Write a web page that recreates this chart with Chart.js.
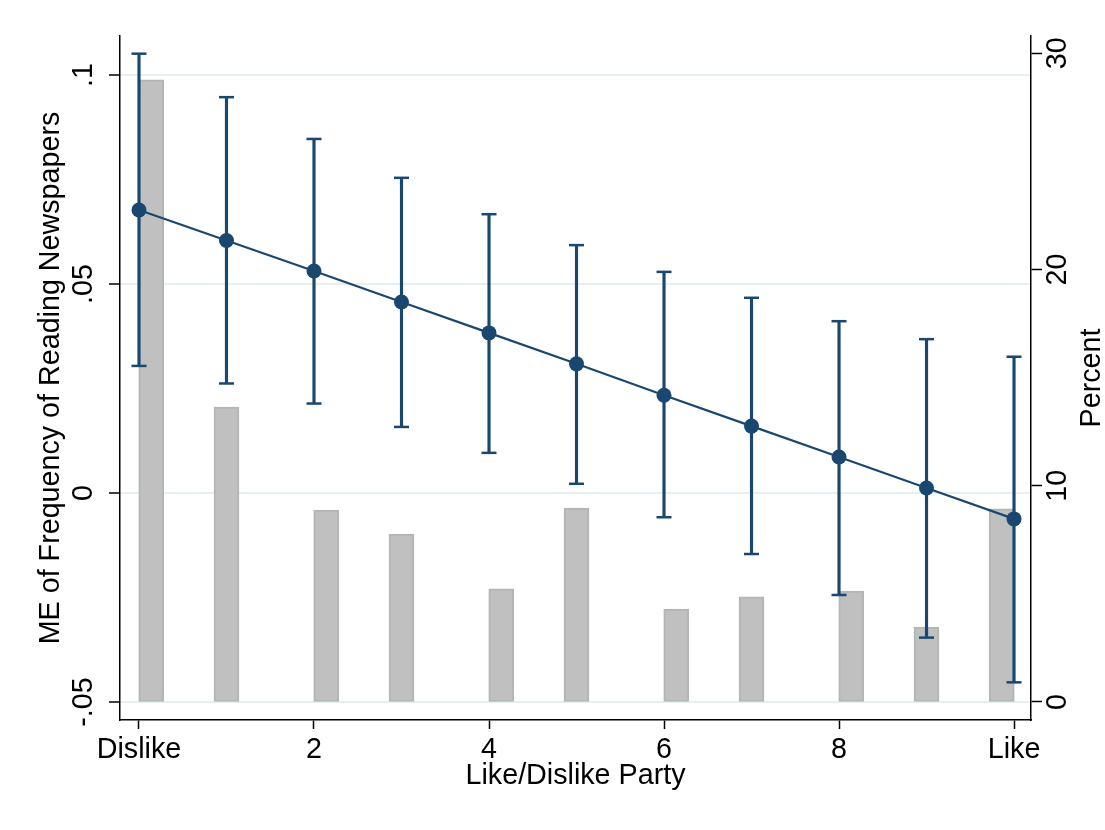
<!DOCTYPE html>
<html>
<head>
<meta charset="utf-8">
<script src="https://cdn.jsdelivr.net/npm/chart.js@4/dist/chart.umd.min.js"></script>
<style>
  html, body { margin: 0; padding: 0; background: #ffffff; }
  #wrap { width: 1105px; height: 830px; position: relative; }
</style>
</head>
<body>
<div id="wrap"><canvas id="c" width="1105" height="830"></canvas></div>
<script>
// ---- data ----
const xValues = [0, 1, 2, 3, 4, 5, 6, 7, 8, 9, 10];
const meValues = [0.0677, 0.0604, 0.0531, 0.0457, 0.0383, 0.0309, 0.0234, 0.0160, 0.0086, 0.0012, -0.0062];
const ciUpper = [0.1051, 0.0947, 0.0847, 0.0754, 0.0667, 0.0593, 0.0529, 0.0467, 0.0411, 0.0368, 0.0326];
const ciLower = [0.0304, 0.0262, 0.0214, 0.0158, 0.0096, 0.0022, -0.0058, -0.0146, -0.0244, -0.0346, -0.0453];
const histBinMid = [0.14, 1.0, 2.14, 3.0, 4.14, 5.0, 6.14, 7.0, 8.14, 9.0, 9.86];
const histPercent = [28.77, 13.64, 8.88, 7.77, 5.23, 8.97, 4.30, 4.86, 5.13, 3.47, 8.93];
const xTickValues = [0, 2, 4, 6, 8, 10];
const xTickLabels = ['Dislike', '2', '4', '6', '8', 'Like'];
const yTickValues = [-0.05, 0, 0.05, 0.1];
const yTickLabels = ['-.05', '0', '.05', '.1'];
const y2TickValues = [0, 10, 20, 30];
const y2TickLabels = ['0', '10', '20', '30'];
const xTitle = 'Like/Dislike Party';
const yTitle = 'ME of Frequency of Reading Newspapers';
const y2Title = 'Percent';

// ---- style ----
const NAVY = '#1a476f';
const FONT = '"Liberation Sans", Arial, Helvetica, sans-serif';
const FS = 28.7;

function fixedTicks(values) {
  return function (scale) { scale.ticks = values.map(v => ({ value: v })); };
}
function labelFrom(values, labels) {
  return function (value) {
    const i = values.findIndex(v => Math.abs(v - value) < 1e-9);
    return i >= 0 ? labels[i] : '';
  };
}

const rightTitlePlugin = {
  id: 'rightTitle',
  afterDraw(chart) {
    const ctx = chart.ctx;
    const a = chart.chartArea;
    ctx.save();
    ctx.translate(1092, (a.top + a.bottom) / 2);
    ctx.rotate(-Math.PI / 2);
    ctx.font = FS + 'px ' + FONT;
    ctx.fillStyle = '#000';
    ctx.textAlign = 'center';
    ctx.textBaseline = 'middle';
    ctx.fillText(y2Title, 0, 0);
    ctx.restore();
  }
};

new Chart(document.getElementById('c'), {
  data: {
    datasets: [
      {
        type: 'line',
        data: xValues.map((x, i) => ({ x: x, y: meValues[i] })),
        xAxisID: 'x', yAxisID: 'y',
        borderColor: NAVY, borderWidth: 2.2,
        pointRadius: 7.5, pointBackgroundColor: NAVY, pointBorderColor: NAVY, pointBorderWidth: 0,
        tension: 0, order: 0
      },
      {
        type: 'line',
        data: xValues.map((x, i) => ({ x: x, y: ciUpper[i] })).concat(xValues.map((x, i) => ({ x: x, y: ciLower[i] }))),
        xAxisID: 'x', yAxisID: 'y',
        showLine: false,
        pointStyle: 'line', pointRadius: 7.5,
        pointBorderColor: NAVY, pointBorderWidth: 2.5,
        order: 1
      },
      {
        type: 'bar',
        data: xValues.map((x, i) => ({ x: x, y: [ciLower[i], ciUpper[i]] })),
        xAxisID: 'x', yAxisID: 'y',
        backgroundColor: NAVY, borderWidth: 0,
        barThickness: 2.5, grouped: false,
        order: 2
      },
      {
        type: 'bar',
        data: histBinMid.map((x, i) => ({ x: x, y: histPercent[i] })),
        xAxisID: 'x', yAxisID: 'y2',
        backgroundColor: '#c0c0c0', borderColor: '#b1b6b5', borderWidth: 2,
        borderSkipped: false,
        barThickness: 25, grouped: false,
        order: 3
      }
    ]
  },
  options: {
    responsive: false,
    animation: false,
    events: [],
    layout: { padding: { top: 36, left: 0, right: 0, bottom: 0 } },
    plugins: { legend: { display: false }, tooltip: { enabled: false }, title: { display: false } },
    scales: {
      x: {
        type: 'linear', position: 'bottom',
        min: -0.217, max: 10.194,
        offset: false,
        afterBuildTicks: fixedTicks(xTickValues),
        afterFit(s) { s.height = 110; },
        ticks: {
          callback: labelFrom(xTickValues, xTickLabels),
          color: '#000', font: { family: FONT, size: FS },
          padding: 4, maxRotation: 0, minRotation: 0, autoSkip: false
        },
        grid: { display: true, offset: false, drawOnChartArea: false, drawTicks: true, tickLength: 9, tickColor: '#000', tickWidth: 1.5 },
        border: { display: true, color: '#000', width: 1.5 },
        title: { display: true, text: xTitle, color: '#000', font: { family: FONT, size: FS }, padding: { top: 0, bottom: 37 } }
      },
      y: {
        type: 'linear', position: 'left',
        min: -0.05431, max: 0.10933,
        afterBuildTicks: fixedTicks(yTickValues),
        afterFit(s) { s.width = 120; },
        ticks: {
          callback: labelFrom(yTickValues, yTickLabels),
          color: '#000', font: { family: FONT, size: FS },
          minRotation: 90, maxRotation: 90, crossAlign: 'center', padding: 0, autoSkip: false
        },
        grid: { display: true, drawOnChartArea: true, color: '#e8eff1', lineWidth: 2, drawTicks: true, tickLength: 11, tickColor: '#000', tickWidth: 1.5 },
        border: { display: true, color: '#000', width: 1.5 },
        title: { display: true, text: yTitle, color: '#000', font: { family: FONT, size: FS }, padding: { top: 34, bottom: 0 } }
      },
      y2: {
        type: 'linear', position: 'right',
        min: -0.833, max: 30.80,
        afterBuildTicks: fixedTicks(y2TickValues),
        afterFit(s) { s.width = 74; },
        ticks: {
          callback: labelFrom(y2TickValues, y2TickLabels),
          color: '#000', font: { family: FONT, size: FS },
          minRotation: 90, maxRotation: 90, crossAlign: 'center', padding: 0, autoSkip: false
        },
        grid: { display: true, drawOnChartArea: false, drawTicks: true, tickLength: 11, tickColor: '#000', tickWidth: 1.5 },
        border: { display: true, color: '#000', width: 1.5 },
        title: { display: false }
      }
    }
  },
  plugins: [rightTitlePlugin]
});
</script>
</body>
</html>
